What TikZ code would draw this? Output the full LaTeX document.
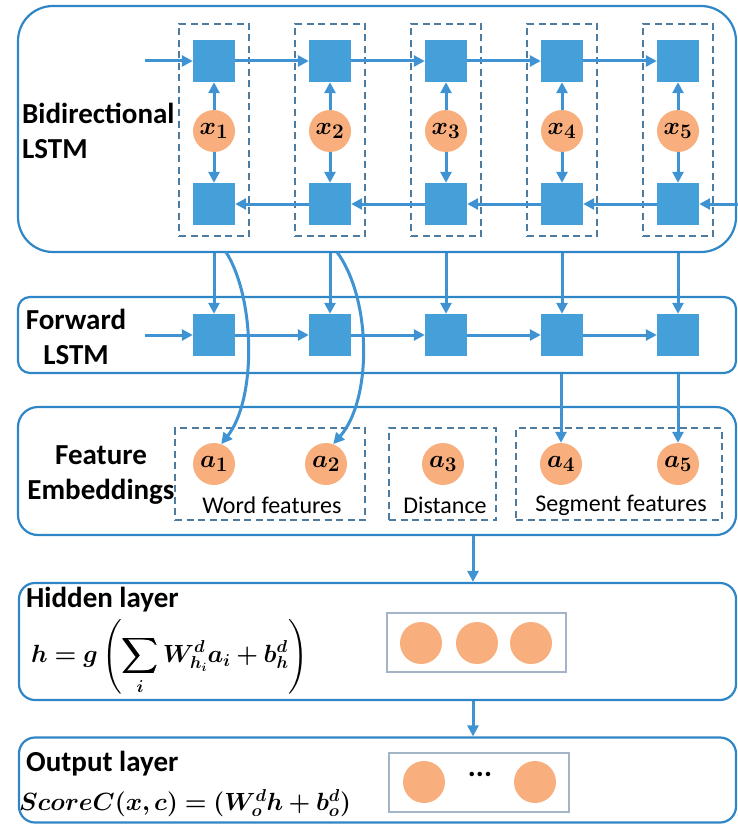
\documentclass[tikz,border=0pt]{standalone}
\usepackage{amsmath}
\usepackage{bm}
\usepackage[no-math]{fontspec}
\setmainfont{Carlito}
\usetikzlibrary{arrows.meta}
\definecolor{sqblue}{HTML}{459FD8}
\definecolor{lnblue}{HTML}{3F93D2}
\definecolor{bxblue}{HTML}{2F86C6}
\definecolor{dsh}{HTML}{4E7BA0}
\definecolor{orng}{HTML}{F8AE7D}
\definecolor{gbx}{HTML}{A3B4C6}
\begin{document}
\begin{tikzpicture}[x=1pt,y=-1pt,
  sq/.style={fill=sqblue,minimum size=42pt,inner sep=0pt},
  crc/.style={circle,fill=orng,minimum size=42pt,inner sep=0pt,font=\fontsize{30}{30}\selectfont},
  layer/.style={draw=bxblue,line width=2.2pt,inner sep=0pt},
  dbox/.style={draw=dsh,line width=1.8pt,dash pattern=on 7pt off 4.5pt,inner sep=0pt},
  arr/.style={draw=lnblue,line width=3pt,-{Triangle[length=11pt,width=11pt]}},
  lbl/.style={font=\bfseries\fontsize{29}{35}\selectfont,align=center,inner sep=0pt},
  sml/.style={font=\fontsize{24}{24}\selectfont,inner sep=0pt}
]
\useasboundingbox (0,0) rectangle (738,824);
% layer boxes
\node[layer,rounded corners=35pt,minimum width=718pt,minimum height=246pt] (bi) at (377,129) {};
\node[layer,rounded corners=12pt,minimum width=718pt,minimum height=76pt] (fw) at (377,335) {};
\node[layer,rounded corners=20pt,minimum width=718pt,minimum height=128pt] (fe) at (377,471) {};
\node[layer,rounded corners=16pt,minimum width=717pt,minimum height=117pt] (hid) at (377.5,641.5) {};
\node[layer,rounded corners=16pt,minimum width=717pt,minimum height=85pt] (out) at (377.5,780) {};
% labels
\node[lbl,align=left,anchor=west] (lbi) at (22,131) {Bidirectional\\LSTM};
\node[lbl] (lfw) at (76,337) {Forward\\LSTM};
\node[lbl] (lfe) at (101,475) {Feature\\Embeddings};
\node[lbl,anchor=west] (lhid) at (26,600) {Hidden layer};
\node[lbl,anchor=west] (lout) at (26,764) {Output layer};
% columns
\foreach \i/\x in {1/214,2/330,3/446,4/562,5/678}{
  \node[dbox,minimum width=70pt,minimum height=212pt] (d\i) at (\x,130) {};
  \node[sq] (t\i) at (\x,61) {};
  \node[sq] (b\i) at (\x,204) {};
  \node[crc] (x\i) at (\x,131) {$\bm{x_{\i}}$};
  \node[sq] (f\i) at (\x,335) {};
  \draw[arr] (x\i) -- (t\i);
  \draw[arr] (x\i) -- (b\i);
  \draw[arr] (f\i |- bi.south) -- (f\i);
}
\coordinate (inT) at (145,61);
\coordinate (inB) at (740,204);
\coordinate (inF) at (145,335);
\draw[arr] (inT) -- (t1);
\draw[arr] (inB) -- (b5);
\draw[arr] (inF) -- (f1);
\foreach \i/\j in {1/2,2/3,3/4,4/5}{
  \draw[arr] (t\i) -- (t\j);
  \draw[arr] (b\j) -- (b\i);
  \draw[arr] (f\i) -- (f\j);
}
% feature embeddings
\node[dbox,minimum width=190pt,minimum height=92pt] (wbox) at (270,474) {};
\node[dbox,minimum width=107pt,minimum height=92pt] (dbx) at (442.5,474) {};
\node[dbox,minimum width=206pt,minimum height=92pt] (sbox) at (619,474) {};
\node[crc] (a1) at (214,464) {$\bm{a_{1}}$};
\node[crc] (a2) at (326,464) {$\bm{a_{2}}$};
\node[crc] (a3) at (443,464) {$\bm{a_{3}}$};
\node[crc] (a4) at (561,464) {$\bm{a_{4}}$};
\node[crc] (a5) at (678,464) {$\bm{a_{5}}$};
\node[sml] (wl) at (272,505) {Word features};
\node[sml] (dl) at (445,505) {Distance};
\node[sml] (sl) at (621,505) {Segment features};
\coordinate (c1) at (226,252);
\coordinate (c2) at (337,252);
\draw[arr] (c1) .. controls (256,300) and (256,400) .. (a1.70);
\draw[arr] (c2) .. controls (372,300) and (372,400) .. (a2.70);
\draw[arr] (a4 |- fw.south) -- (a4);
\draw[arr] (a5 |- fw.south) -- (a5);
% hidden / output
\coordinate (m1) at (473,535);
\draw[arr] (fe.south -| m1) -- (hid.north -| m1);
\draw[arr] (hid.south -| m1) -- (out.north -| m1);
\node[draw=gbx,line width=1.6pt,minimum width=179pt,minimum height=59pt,inner sep=0pt] (hbox) at (476.5,642.5) {};
\node[crc] (h1) at (421,643) {};
\node[crc] (h2) at (477,643) {};
\node[crc] (h3) at (531,643) {};
\node[draw=gbx,line width=1.6pt,minimum width=180pt,minimum height=59pt,inner sep=0pt] (obox) at (479,782.5) {};
\node[crc] (o1) at (424,782) {};
\node[crc] (o2) at (535,782) {};
\node[inner sep=0pt,font=\bfseries\fontsize{30}{30}\selectfont] (odots) at (480,774) {...};
\node[anchor=west,inner sep=0pt,font=\fontsize{24}{24}\selectfont] (fh) at (31,657)
  {$\bm{h = g\left(\displaystyle\sum_{i} W^{d}_{h_i} a_i + b^{d}_{h}\right)}$};
\node[anchor=west,inner sep=0pt,font=\fontsize{25.5}{25.5}\selectfont] (fs) at (19,803)
  {$\bm{ScoreC(x,c) = (W^{d}_{o} h + b^{d}_{o})}$};
\end{tikzpicture}
\end{document}
